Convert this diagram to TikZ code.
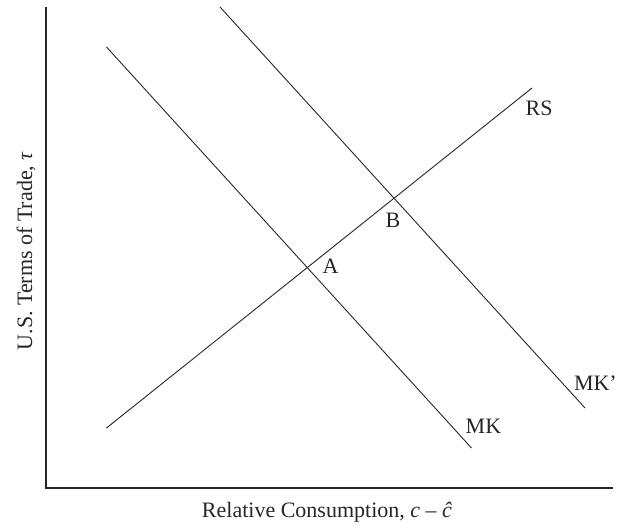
\documentclass[tikz,border=0pt]{standalone}
\usepackage{fontspec}
\setmainfont{Liberation Serif}
\begin{document}
\begin{tikzpicture}[x=1pt,y=-1pt,
  axis/.style={line width=1.4pt,color=black!85},
  curve/.style={line width=0.9pt,color=black!85},
  lbl/.style={font=\fontsize{22}{24}\selectfont,text=black!85,inner sep=0pt}]
\useasboundingbox (0,0) rectangle (618,529);
\coordinate (O) at (46,488);
\coordinate (ytop) at (46,7);
\coordinate (xend) at (613,488);
\draw[axis] (ytop) -- (O) -- (xend);
\coordinate (mk1) at (106.5,47);
\coordinate (mk2) at (471.5,448);
\coordinate (mkp1) at (220,7);
\coordinate (mkp2) at (585,408);
\coordinate (rs1) at (106.5,428);
\coordinate (rs2) at (532,88);
\draw[curve] (mk1) -- (mk2);
\draw[curve] (mkp1) -- (mkp2);
\draw[curve] (rs1) -- (rs2);
\node[lbl,anchor=base west] (lRS) at (525.5,115.5) {RS};
\node[lbl,anchor=base west] (lB) at (385.5,227.5) {B};
\node[lbl,anchor=base west] (lA) at (322.5,273) {A};
\node[lbl,anchor=base west] (lMK) at (465.5,433) {MK};
\node[lbl,anchor=base east] (lMKp) at (617,390.5) {MK’};
\node[lbl,anchor=base] (xl) at (327,517) {Relative Consumption, \textit{c} – \textit{\^c}};
\node[lbl,anchor=base,rotate=90] (yl) at (32,251) {U.S. Terms of Trade, \textit{τ}};
\end{tikzpicture}
\end{document}
